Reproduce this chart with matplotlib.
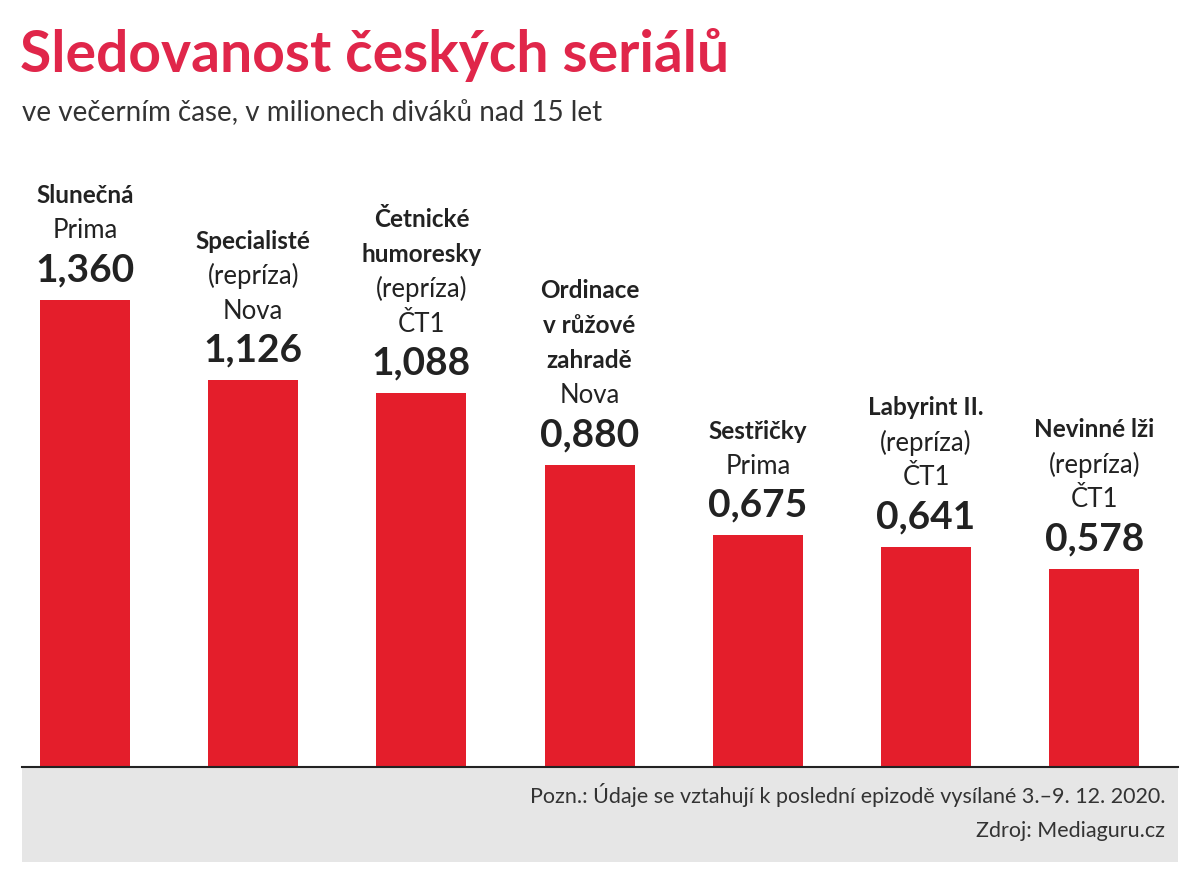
import matplotlib
matplotlib.use("Agg")
import matplotlib.pyplot as plt
from matplotlib.patches import Rectangle

plt.rcParams["font.family"] = ["Lato", "DejaVu Sans"]

NAMES = [["Slunečná"], ["Specialisté"], ["Četnické", "humoresky"],
         ["Ordinace", "v růžové", "zahradě"], ["Sestřičky"], ["Labyrint II."], ["Nevinné lži"]]
REPRISE = [False, True, True, False, False, True, True]
CHANNELS = ["Prima", "Nova", "ČT1", "Nova", "Prima", "ČT1", "ČT1"]
VALUES = [1.360, 1.126, 1.088, 0.880, 0.675, 0.641, 0.578]
VALUE_LABELS = ["1,360", "1,126", "1,088", "0,880", "0,675", "0,641", "0,578"]

BAR_RED = "#E41E2B"
TITLE_RED = "#E0264A"

W, H = 1200, 882
fig = plt.figure(figsize=(W / 100, H / 100), dpi=100)
fig.patch.set_facecolor("white")

# grey footer
fig.patches.append(Rectangle((22 / W, 1 - 862 / H), 1156 / W, 95 / H,
                             transform=fig.transFigure, facecolor="#E6E6E6", edgecolor="none"))

ax = fig.add_axes([0, 1 - 767 / H, 1, 637 / H])
ax.set_facecolor("none")
step = 168.2
ax.set_xlim(-85 / step, (1200 - 85) / step)
ax.set_ylim(0, 637 / 343.4)
ax.axis("off")

x = list(range(len(VALUES)))
ax.bar(x, VALUES, width=90 / step, color=BAR_RED)

for i, v in enumerate(VALUES):
    ax.annotate(VALUE_LABELS[i], (i, v), xytext=(0, 30), textcoords="offset pixels",
                ha="center", va="center", fontsize=28, fontweight="bold", color="#222222")
    lines = []
    for n in NAMES[i]:
        lines.append((n, True))
    if REPRISE[i]:
        lines.append(("(repríza)", False))
    lines.append((CHANNELS[i], False))
    off = 69
    for text, bold in reversed(lines):
        ax.annotate(text, (i, v), xytext=(0, off), textcoords="offset pixels",
                    ha="center", va="center", fontsize=17.5 if bold else 18.5,
                    fontweight="bold" if bold else "normal", color="#222222")
        off += 35

# baseline
fig.add_artist(plt.Line2D([22 / W, 1178 / W], [1 - 767 / H] * 2, color="#222222", lw=1.5))

fig.text(20 / W, 1 - 55 / H, "Sledovanost českých seriálů", fontsize=41, fontweight="bold",
         color=TITLE_RED, va="center", ha="left")
fig.text(22 / W, 1 - 113 / H, "ve večerním čase, v milionech diváků nad 15 let", fontsize=20,
         color="#333333", va="center", ha="left")
fig.text(1165 / W, 1 - 795 / H, "Pozn.: Údaje se vztahují k poslední epizodě vysílané 3.–9. 12. 2020.",
         fontsize=15.5, color="#333333", va="center", ha="right")
fig.text(1165 / W, 1 - 831 / H, "Zdroj: Mediaguru.cz", fontsize=15.5, color="#333333",
         va="center", ha="right")

fig.savefig("out.png", dpi=100)
